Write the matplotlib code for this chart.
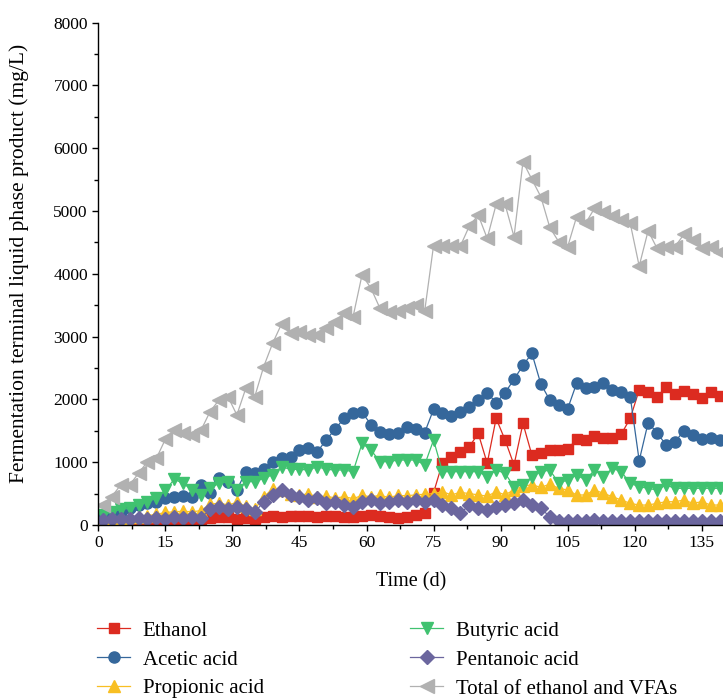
import matplotlib
matplotlib.use("Agg")
import matplotlib.pyplot as plt
from matplotlib.ticker import MultipleLocator

plt.rcParams['font.family'] = ['Liberation Serif', 'DejaVu Serif']

days = list(range(1, 140, 2))

ethanol = [30, 40, 50, 50, 60, 60, 70, 70, 80, 80,
           90, 100, 110, 120, 130, 100, 110, 90, 130, 140,
           130, 140, 140, 150, 130, 140, 150, 120, 130, 150,
           160, 150, 120, 110, 130,
           160, 190, 514, 992, 1088, 1168, 1247, 1459, 982, 1698,
           1353, 956, 1618, 1114, 1141, 1194, 1194, 1204, 1369, 1353,
           1417, 1380, 1390, 1449, 1698, 2150, 2112, 2033, 2203, 2086,
           2139, 2086, 2017, 2123, 2054]

acetic = [120, 180, 212, 265, 319, 345, 372, 425, 451, 462,
          451, 637, 504, 743, 690, 558, 850, 823, 887, 1009,
          1062, 1075, 1195, 1220, 1168, 1354, 1530, 1699, 1779, 1794,
          1600, 1487, 1455, 1460, 1566,
          1523, 1470, 1841, 1788, 1735, 1804, 1884, 1990, 2106, 1947,
          2106, 2319, 2542, 2733, 2245, 1990, 1910, 1850, 2256, 2177,
          2193, 2256, 2150, 2124, 2044, 1024, 1629, 1470, 1274, 1327,
          1496, 1433, 1364, 1380, 1354]

propionic = [60, 80, 100, 120, 130, 150, 170, 200, 210, 220,
             210, 230, 330, 350, 320, 360, 300, 250, 450, 573,
             560, 493, 470, 500, 440, 460, 430, 450, 420, 470,
             450, 470, 440, 470, 466,
             480, 490, 500, 530, 480, 520, 500, 480, 460, 530,
             480, 560, 620, 640, 600, 650, 584, 557, 478, 478,
             557, 504, 451, 398, 345, 318, 318, 345, 371, 371,
             398, 345, 371, 318, 318]

butyric = [159, 212, 249, 265, 318, 372, 425, 557, 727, 663,
           557, 478, 584, 663, 690, 557, 690, 690, 743, 800,
           929, 886, 886, 876, 929, 886, 876, 876, 849, 1300,
           1194, 1008, 1008, 1035, 1035,
           1035, 955, 1353, 849, 849, 849, 849, 849, 770, 875,
           823, 610, 637, 770, 849, 875, 670, 716, 796, 716,
           875, 770, 902, 849, 663, 610, 584, 557, 637, 584,
           584, 584, 584, 584, 584]

pentanoic = [80, 90, 100, 90, 110, 100, 110, 100, 120, 110,
             120, 110, 260, 280, 250, 280, 260, 200, 371, 477,
             557, 477, 451, 398, 424, 345, 371, 318, 292, 371,
             398, 345, 371, 398, 371,
             398, 371, 398, 318, 265, 186, 318, 265, 239, 292,
             318, 345, 398, 318, 265, 133, 60, 65, 70, 60,
             72, 66, 70, 62, 68, 70, 64, 70, 66, 62,
             70, 68, 64, 70, 66]

total = [319, 451, 637, 637, 823, 1009, 1062, 1365, 1513, 1460,
         1434, 1513, 1805, 1991, 2044, 1752, 2177, 2044, 2522, 2894,
         3202, 3053, 3069, 3027, 3027, 3133, 3239, 3372, 3319, 3983,
         3770, 3452, 3398, 3400, 3450,
         3500, 3400, 4450, 4442, 4442, 4442, 4760, 4935, 4564, 5105,
         5105, 4590, 5784, 5503, 5227, 4739, 4510, 4431, 4908, 4803,
         5042, 4988, 4919, 4855, 4803, 4123, 4685, 4405, 4431, 4431,
         4628, 4537, 4405, 4431, 4351]

labels = ["Ethanol", "Acetic acid", "Propionic acid",
          "Butyric acid", "Pentanoic acid", "Total of ethanol and VFAs"]

W, H = 723, 699
fig = plt.figure(figsize=(W / 100, H / 100), dpi=100)
x0, x1 = 98.3, 723
y_top, y_bot = 22.6, 525
ax = fig.add_axes([x0 / W, 1 - y_bot / H, (x1 - x0) / W, (y_bot - y_top) / H])

series = [
    (ethanol, '#dc2b20', 's', 7.5),
    (acetic, '#35679b', 'o', 8),
    (propionic, '#f8bf23', '^', 9),
    (butyric, '#40c270', 'v', 9),
    (pentanoic, '#6b669e', 'D', 7),
    (total, '#b1b1b1', '<', 9.5),
]
handles = []
for (vals, col, mk, ms), lab in zip(series, labels):
    h, = ax.plot(days, vals, color=col, marker=mk, markersize=ms,
                 markeredgecolor=col, linewidth=0.9, label=lab)
    handles.append(h)

ax.set_xlim(0, 139.75)
ax.set_ylim(0, 8000)
ax.xaxis.set_major_locator(MultipleLocator(15))
ax.xaxis.set_minor_locator(MultipleLocator(7.5))
ax.yaxis.set_major_locator(MultipleLocator(1000))
ax.yaxis.set_minor_locator(MultipleLocator(500))
for s in ['top', 'right']:
    ax.spines[s].set_visible(False)
for s in ['left', 'bottom']:
    ax.spines[s].set_linewidth(1.0)
ax.tick_params(which='major', direction='out', length=4.5, width=1.0, pad=3,
               labelsize=12.5, colors='black')
ax.tick_params(which='minor', direction='out', length=3, width=1.0)

ax.set_xlabel("Time (d)", fontsize=14.5)
ax.set_ylabel("Fermentation terminal liquid phase product (mg/L)", fontsize=15.5)
ax.xaxis.set_label_coords(0.5, (y_bot - 572) / (y_bot - y_top))
ax.yaxis.set_label_coords((29 - x0) / (x1 - x0), 0.52)

leg_kw = dict(frameon=False, fontsize=15, handlelength=1.6, handletextpad=0.6,
              labelspacing=0.45, borderpad=0, borderaxespad=0, numpoints=1,
              loc='upper left')
fig.legend(handles[:3], labels[:3], bbox_to_anchor=(97 / W, 1 - 621 / H), **leg_kw)
fig.legend(handles[3:], labels[3:], bbox_to_anchor=(410 / W, 1 - 621 / H), **leg_kw)

fig.savefig("out.png", dpi=100)
